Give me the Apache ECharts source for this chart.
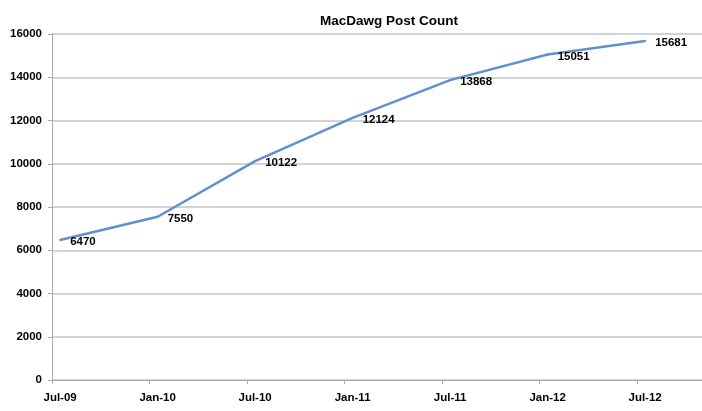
<!DOCTYPE html>
<html>
<head>
<meta charset="utf-8">
<script src="https://cdn.jsdelivr.net/npm/echarts@6/dist/echarts.min.js"></script>
<style>html,body{margin:0;padding:0;background:#fff}#c{width:702px;height:411px}</style>
</head>
<body>
<div id="c"></div>
<script>
var titleText = 'MacDawg Post Count';
var pointDates = ['Jul-09', 'Jan-10', 'Jul-10', 'Jan-11', 'Jul-11', 'Jan-12', 'Jul-12'];
var postCounts = [6470, 7550, 10122, 12124, 13868, 15051, 15681];
var monthNames = ['Jan','Feb','Mar','Apr','May','Jun','Jul','Aug','Sep','Oct','Nov','Dec'];
var startYear = 2009, startMonth = 6, monthCount = 40;

var categories = [];
for (var i = 0; i < monthCount; i++) {
  var m = (startMonth + i) % 12;
  var y = startYear + Math.floor((startMonth + i) / 12);
  categories.push(monthNames[m] + '-' + String(y % 100).padStart(2, '0'));
}
var seriesData = pointDates.map(function (d, i) { return [d, postCounts[i]]; });

var font = '"Liberation Sans", Arial, Helvetica, sans-serif';
var chart = echarts.init(document.getElementById('c'), null, {renderer: 'canvas'});
chart.setOption({
  animation: false,
  backgroundColor: '#ffffff',
  title: {
    text: titleText,
    left: 384,
    top: 9,
    textAlign: 'center',
    textStyle: {fontFamily: font, fontWeight: 'bold', fontSize: 13.5, color: '#000'}
  },
  grid: {left: 52, top: 34, bottom: 31, right: 0, containLabel: false},
  xAxis: {
    type: 'category',
    data: categories,
    boundaryGap: true,
    axisLine: {lineStyle: {color: '#aaaaaa', width: 1}},
    axisTick: {show: true, interval: 5, length: 4, alignWithLabel: false, lineStyle: {color: '#aaaaaa'}},
    axisLabel: {interval: 5, margin: 12, fontFamily: font, fontWeight: 'bold', fontSize: 11.5, color: '#000'},
    splitLine: {show: false}
  },
  yAxis: {
    type: 'value',
    min: 0, max: 16000, interval: 2000,
    axisLine: {show: true, lineStyle: {color: '#aaaaaa', width: 1}},
    axisTick: {show: true, length: 4, lineStyle: {color: '#aaaaaa'}},
    axisLabel: {margin: 10, formatter: function (v) { return String(v); }, fontFamily: font, fontWeight: 'bold', fontSize: 11.5, color: '#000'},
    splitLine: {show: true, lineStyle: {color: '#c4c4c4', width: 1.5}}
  },
  series: [{
    type: 'line',
    data: seriesData,
    symbol: 'circle',
    symbolSize: 2,
    showSymbol: true,
    itemStyle: {color: '#6290cc'},
    lineStyle: {color: '#6290cc', width: 2.5},
    label: {
      show: true,
      position: 'right',
      distance: 8,
      offset: [1, 2],
      formatter: function (p) { return p.value[1]; },
      fontFamily: font, fontWeight: 'bold', fontSize: 11.5, color: '#000'
    }
  }]
});
</script>
</body>
</html>
